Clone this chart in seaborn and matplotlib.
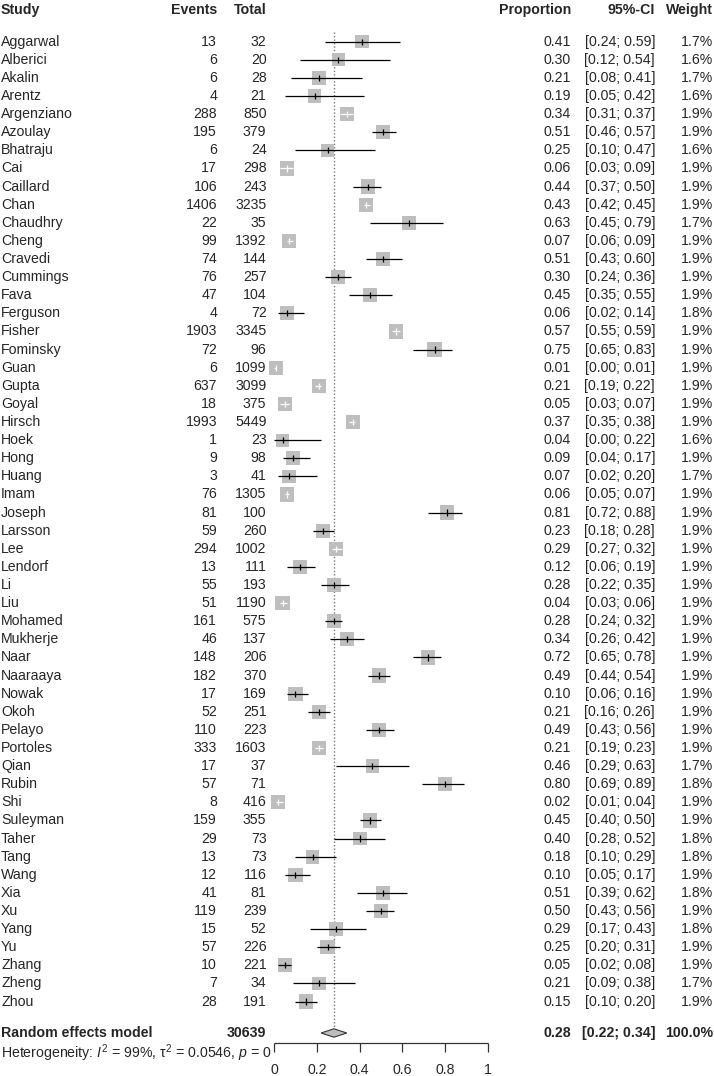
import numpy as np
import pandas as pd
import matplotlib
matplotlib.use("Agg")
import matplotlib.pyplot as plt
from matplotlib.patches import Polygon
import seaborn as sns

studies = ["Aggarwal", "Alberici", "Akalin", "Arentz", "Argenziano", "Azoulay", "Bhatraju", "Cai",
           "Caillard", "Chan", "Chaudhry", "Cheng", "Cravedi", "Cummings", "Fava", "Ferguson",
           "Fisher", "Fominsky", "Guan", "Gupta", "Goyal", "Hirsch", "Hoek", "Hong", "Huang",
           "Imam", "Joseph", "Larsson", "Lee", "Lendorf", "Li", "Liu", "Mohamed", "Mukherje",
           "Naar", "Naaraaya", "Nowak", "Okoh", "Pelayo", "Portoles", "Qian", "Rubin", "Shi",
           "Suleyman", "Taher", "Tang", "Wang", "Xia", "Xu", "Yang", "Yu", "Zhang", "Zheng", "Zhou"]
events = [13, 6, 6, 4, 288, 195, 6, 17, 106, 1406, 22, 99, 74, 76, 47, 4, 1903, 72, 6, 637, 18,
          1993, 1, 9, 3, 76, 81, 59, 294, 13, 55, 51, 161, 46, 148, 182, 17, 52, 110, 333, 17, 57,
          8, 159, 29, 13, 12, 41, 119, 15, 57, 10, 7, 28]
totals = [32, 20, 28, 21, 850, 379, 24, 298, 243, 3235, 35, 1392, 144, 257, 104, 72, 3345, 96,
          1099, 3099, 375, 5449, 23, 98, 41, 1305, 100, 260, 1002, 111, 193, 1190, 575, 137, 206,
          370, 169, 251, 223, 1603, 37, 71, 416, 355, 73, 73, 116, 81, 239, 52, 226, 221, 34, 191]
prop = [0.41, 0.30, 0.21, 0.19, 0.34, 0.51, 0.25, 0.06, 0.44, 0.43, 0.63, 0.07, 0.51, 0.30, 0.45,
        0.06, 0.57, 0.75, 0.01, 0.21, 0.05, 0.37, 0.04, 0.09, 0.07, 0.06, 0.81, 0.23, 0.29, 0.12,
        0.28, 0.04, 0.28, 0.34, 0.72, 0.49, 0.10, 0.21, 0.49, 0.21, 0.46, 0.80, 0.02, 0.45, 0.40,
        0.18, 0.10, 0.51, 0.50, 0.29, 0.25, 0.05, 0.21, 0.15]
lower = [0.24, 0.12, 0.08, 0.05, 0.31, 0.46, 0.10, 0.03, 0.37, 0.42, 0.45, 0.06, 0.43, 0.24, 0.35,
         0.02, 0.55, 0.65, 0.00, 0.19, 0.03, 0.35, 0.00, 0.04, 0.02, 0.05, 0.72, 0.18, 0.27, 0.06,
         0.22, 0.03, 0.24, 0.26, 0.65, 0.44, 0.06, 0.16, 0.43, 0.19, 0.29, 0.69, 0.01, 0.40, 0.28,
         0.10, 0.05, 0.39, 0.43, 0.17, 0.20, 0.02, 0.09, 0.10]
upper = [0.59, 0.54, 0.41, 0.42, 0.37, 0.57, 0.47, 0.09, 0.50, 0.45, 0.79, 0.09, 0.60, 0.36, 0.55,
         0.14, 0.59, 0.83, 0.01, 0.22, 0.07, 0.38, 0.22, 0.17, 0.20, 0.07, 0.88, 0.28, 0.32, 0.19,
         0.35, 0.06, 0.32, 0.42, 0.78, 0.54, 0.16, 0.26, 0.56, 0.23, 0.63, 0.89, 0.04, 0.50, 0.52,
         0.29, 0.17, 0.62, 0.56, 0.43, 0.31, 0.08, 0.38, 0.20]
weights = [1.7, 1.6, 1.7, 1.6, 1.9, 1.9, 1.6, 1.9, 1.9, 1.9, 1.7, 1.9, 1.9, 1.9, 1.9, 1.8, 1.9,
           1.9, 1.9, 1.9, 1.9, 1.9, 1.6, 1.9, 1.7, 1.9, 1.9, 1.9, 1.9, 1.9, 1.9, 1.9, 1.9, 1.9,
           1.9, 1.9, 1.9, 1.9, 1.9, 1.9, 1.7, 1.8, 1.9, 1.9, 1.8, 1.8, 1.9, 1.8, 1.9, 1.8, 1.9,
           1.9, 1.7, 1.9]
pooled_total = 30639
pooled_est, pooled_lo, pooled_hi = 0.28, 0.22, 0.34
x_ticks = [0, 0.2, 0.4, 0.6, 0.8, 1]
x_tick_labels = ["0", "0.2", "0.4", "0.6", "0.8", "1"]

sns.set_theme(style="white")
plt.rcParams["font.family"] = ["Liberation Sans", "DejaVu Sans"]
plt.rcParams["mathtext.fontset"] = "custom"
plt.rcParams["mathtext.rm"] = "Liberation Sans"
plt.rcParams["mathtext.it"] = "Liberation Sans:italic"
plt.rcParams["mathtext.bf"] = "Liberation Sans:bold"

W, H, DPI = 714, 1076, 100
fig = plt.figure(figsize=(W / DPI, H / DPI), dpi=DPI)
ax = fig.add_axes([0, 0, 1, 1])
ax.set_axis_off()

X0, XS = 274.0, 214.0     # pixel of 0, pixels per unit
Y0, YS = 41.7, 18.11      # pixel of first row, pixels per row
def px2x(p):
    return (p - X0) / XS
def py2r(p):
    return (p - Y0) / YS

ax.set_xlim(px2x(0), px2x(W))
ax.set_ylim(py2r(H), py2r(0))

n = len(studies)
df = pd.DataFrame({"study": studies, "events": events, "total": totals, "prop": prop,
                   "lower": lower, "upper": upper, "weight": weights, "row": np.arange(n)})
df["ratio"] = df["events"] / df["total"]

fs = 10.2
gray = "#BEBEBE"

# reference dotted line
row_pool = py2r(1033)
row_axis = py2r(1043)
ax.vlines(pooled_est, py2r(32), row_pool - 0.2, colors="#777777", linestyles=(0, (1, 1.5)),
          linewidth=1.0, zorder=1)

# squares
smax = 106.0
wmin, wmax = min(weights), max(weights)
sns.scatterplot(data=df, x="prop", y="row", size="weight",
                sizes=(smax * wmin / wmax, smax), size_norm=(wmin, wmax),
                marker="s", color=gray, linewidth=0, legend=False, ax=ax, zorder=2)

# CI lines: white if inside the square, black otherwise
for _, r in df.iterrows():
    side_px = np.sqrt(smax * r["weight"] / wmax) * DPI / 72.0
    half = side_px / 2.0 / XS
    inside = (r["lower"] >= r["ratio"] - half) and (r["upper"] <= r["ratio"] + half)
    col = "white" if inside else "black"
    ax.hlines(r["row"], r["lower"], r["upper"], colors=col, linewidth=0.9, zorder=3)
    ax.vlines(r["prop"], r["row"] - 0.17, r["row"] + 0.17, colors=col, linewidth=0.9, zorder=3)

# diamond
hh = 4.2 / YS
dia = Polygon([(pooled_lo, row_pool), (pooled_est, row_pool - hh), (pooled_hi, row_pool),
               (pooled_est, row_pool + hh)], closed=True, facecolor=gray,
              edgecolor="#333333", linewidth=0.8, zorder=3)
ax.add_patch(dia)

# x axis
ax.hlines(row_axis, 0, 1, colors="#333333", linewidth=0.9)
tick_len = 9 / YS
for t, lab in zip(x_ticks, x_tick_labels):
    ax.vlines(t, row_axis, row_axis + tick_len, colors="#333333", linewidth=0.9)
    ax.text(t, py2r(1070), lab, ha="center", va="center", fontsize=fs)

# columns
c_study, c_events, c_total = px2x(1), px2x(217), px2x(266.5)
c_prop, c_ci, c_w = px2x(571), px2x(655), px2x(713)
hdr_r = py2r(10)
for x, txt, ha in [(c_study, "Study", "left"), (c_events, "Events", "right"),
                   (c_total, "Total", "right"), (c_prop, "Proportion", "right"),
                   (c_ci, "95%-CI", "right"), (c_w, "Weight", "right")]:
    ax.text(x, hdr_r, txt, ha=ha, va="center", fontsize=fs, fontweight="bold")

for _, r in df.iterrows():
    y = r["row"]
    ax.text(c_study, y, r["study"], ha="left", va="center", fontsize=fs)
    ax.text(c_events, y, f"{int(r['events'])}", ha="right", va="center", fontsize=fs)
    ax.text(c_total, y, f"{int(r['total'])}", ha="right", va="center", fontsize=fs)
    ax.text(c_prop, y, f"{r['prop']:.2f}", ha="right", va="center", fontsize=fs)
    ax.text(c_ci, y, f"[{r['lower']:.2f}; {r['upper']:.2f}]", ha="right", va="center", fontsize=fs)
    ax.text(c_w, y, f"{r['weight']:.1f}%", ha="right", va="center", fontsize=fs)

ax.text(c_study, row_pool, "Random effects model", ha="left", va="center", fontsize=fs,
        fontweight="bold")
ax.text(c_total, row_pool, f"{pooled_total}", ha="right", va="center", fontsize=fs,
        fontweight="bold")
ax.text(c_prop, row_pool, f"{pooled_est:.2f}", ha="right", va="center", fontsize=fs,
        fontweight="bold")
ax.text(c_ci, row_pool, f"[{pooled_lo:.2f}; {pooled_hi:.2f}]", ha="right", va="center",
        fontsize=fs, fontweight="bold")
ax.text(c_w, row_pool, "100.0%", ha="right", va="center", fontsize=fs, fontweight="bold")

ax.text(c_study, py2r(1053),
        r"Heterogeneity: $I^2$ = 99%, $\mathrm{\tau}^2$ = 0.0546, $p$ = 0",
        ha="left", va="center", fontsize=fs)

fig.savefig("out.png", dpi=DPI)
